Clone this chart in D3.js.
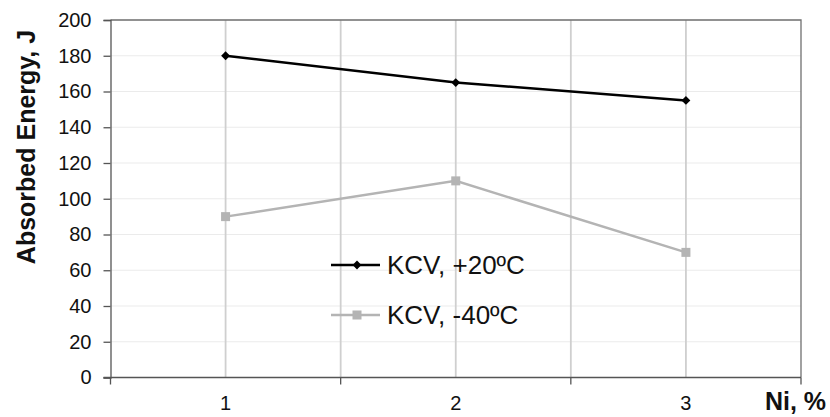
<!DOCTYPE html>
<html><head><meta charset="utf-8">
<script src="https://cdn.jsdelivr.net/npm/d3@7"></script>
<style>body{margin:0;background:#fff}svg{display:block;font-family:Arial,"Liberation Sans",sans-serif}</style>
</head><body><svg id="c" width="830" height="417"></svg>
<script>
const categories = ["1", "2", "3"];
const seriesNames = ["KCV, +20ºC", "KCV, -40ºC"];
const warmValues = [180, 165, 155];
const coldValues = [90, 110, 70];
const yTicks = [0, 20, 40, 60, 80, 100, 120, 140, 160, 180, 200];

const svg = d3.select("#c");
const L = 110.5, R = 801, T = 20, B = 377.5;
const x = d3.scaleBand().domain(categories).range([L, R]);
const xc = d => x(d) + x.bandwidth() / 2;
const y = d3.scaleLinear().domain([0, 200]).range([B, T]);

// horizontal grid
svg.append("g").selectAll("line").data(yTicks.filter(v => v > 0)).join("line")
  .attr("x1", L).attr("x2", R).attr("y1", d => y(d)).attr("y2", d => y(d))
  .attr("stroke", "#ebebeb").attr("stroke-width", 1.2);
// vertical grid: centers and boundaries
const vLines = [];
categories.forEach((c, i) => { vLines.push(xc(c)); if (i > 0) vLines.push(x(c)); });
svg.append("g").selectAll("line").data(vLines).join("line")
  .attr("x1", d => d).attr("x2", d => d).attr("y1", T).attr("y2", B)
  .attr("stroke", "#cfcfcf").attr("stroke-width", 1.8);

// frame (top and right)
svg.append("path").attr("d", `M${L},${T}H${R}V${B}`).attr("fill", "none")
  .attr("stroke", "#707070").attr("stroke-width", 1.3);

// y axis
const ya = d3.axisLeft(y).tickValues(yTicks).tickSize(7).tickPadding(12);
const yg = svg.append("g").attr("transform", `translate(${L},0)`).call(ya);
yg.select(".domain").attr("stroke", "#555").attr("stroke-width", 1.3);
yg.selectAll(".tick line").attr("stroke", "#555").attr("stroke-width", 1.3);
yg.selectAll("text").attr("font-size", 20).attr("fill", "#111").attr("font-family", "Arial,'Liberation Sans',sans-serif");

// x axis: ticks at category boundaries
const xa = svg.append("g");
xa.append("line").attr("x1", L - 7).attr("x2", R).attr("y1", B).attr("y2", B)
  .attr("stroke", "#555").attr("stroke-width", 1.3);
const bounds = categories.map(c => x(c)).concat([R]);
xa.selectAll("line.t").data(bounds).join("line").attr("class", "t")
  .attr("x1", d => d).attr("x2", d => d).attr("y1", B).attr("y2", B + 7)
  .attr("stroke", "#555").attr("stroke-width", 1.3);
xa.selectAll("text").data(categories).join("text")
  .attr("x", d => xc(d)).attr("y", 410).attr("text-anchor", "middle")
  .attr("font-size", 20).attr("fill", "#111").text(d => d);

// axis titles
svg.append("text").attr("x", 826).attr("y", 410).attr("text-anchor", "end")
  .attr("font-size", 25).attr("font-weight", "bold").attr("fill", "#111").text("Ni, %");
svg.append("text").attr("transform", "translate(35,147) rotate(-90)").attr("text-anchor", "middle")
  .attr("font-size", 25).attr("font-weight", "bold").attr("fill", "#111").text("Absorbed Energy, J");

// series
const line = d3.line().x(d => xc(d.c)).y(d => y(d.v));
const warm = categories.map((c, i) => ({c, v: warmValues[i]}));
const cold = categories.map((c, i) => ({c, v: coldValues[i]}));
const greyC = "#b4b4b4";
svg.append("path").datum(cold).attr("d", line).attr("fill", "none").attr("stroke", greyC).attr("stroke-width", 2.5);
svg.append("g").selectAll("rect").data(cold).join("rect")
  .attr("x", d => xc(d.c) - 4.5).attr("y", d => y(d.v) - 4.5).attr("width", 9).attr("height", 9).attr("fill", greyC);
svg.append("path").datum(warm).attr("d", line).attr("fill", "none").attr("stroke", "#000").attr("stroke-width", 2.5);
const diamond = d3.symbol().type(d3.symbolDiamond2).size(50);
svg.append("g").selectAll("path").data(warm).join("path")
  .attr("transform", d => `translate(${xc(d.c)},${y(d.v)})`).attr("d", diamond).attr("fill", "#000");

// legend
const lg = svg.append("g");
const items = [{name: seriesNames[0], color: "#000", mark: "d", yy: 265}, {name: seriesNames[1], color: greyC, mark: "s", yy: 315}];
items.forEach(it => {
  lg.append("line").attr("x1", 331).attr("x2", 380).attr("y1", it.yy).attr("y2", it.yy).attr("stroke", it.color).attr("stroke-width", 2.5);
  if (it.mark === "d") lg.append("path").attr("transform", `translate(357,${it.yy})`).attr("d", diamond).attr("fill", it.color);
  else lg.append("rect").attr("x", 352.5).attr("y", it.yy - 4.5).attr("width", 9).attr("height", 9).attr("fill", it.color);
  lg.append("text").attr("x", 387).attr("y", it.yy + 9).attr("font-size", 26).attr("fill", "#111").text(it.name);
});
</script></body></html>
